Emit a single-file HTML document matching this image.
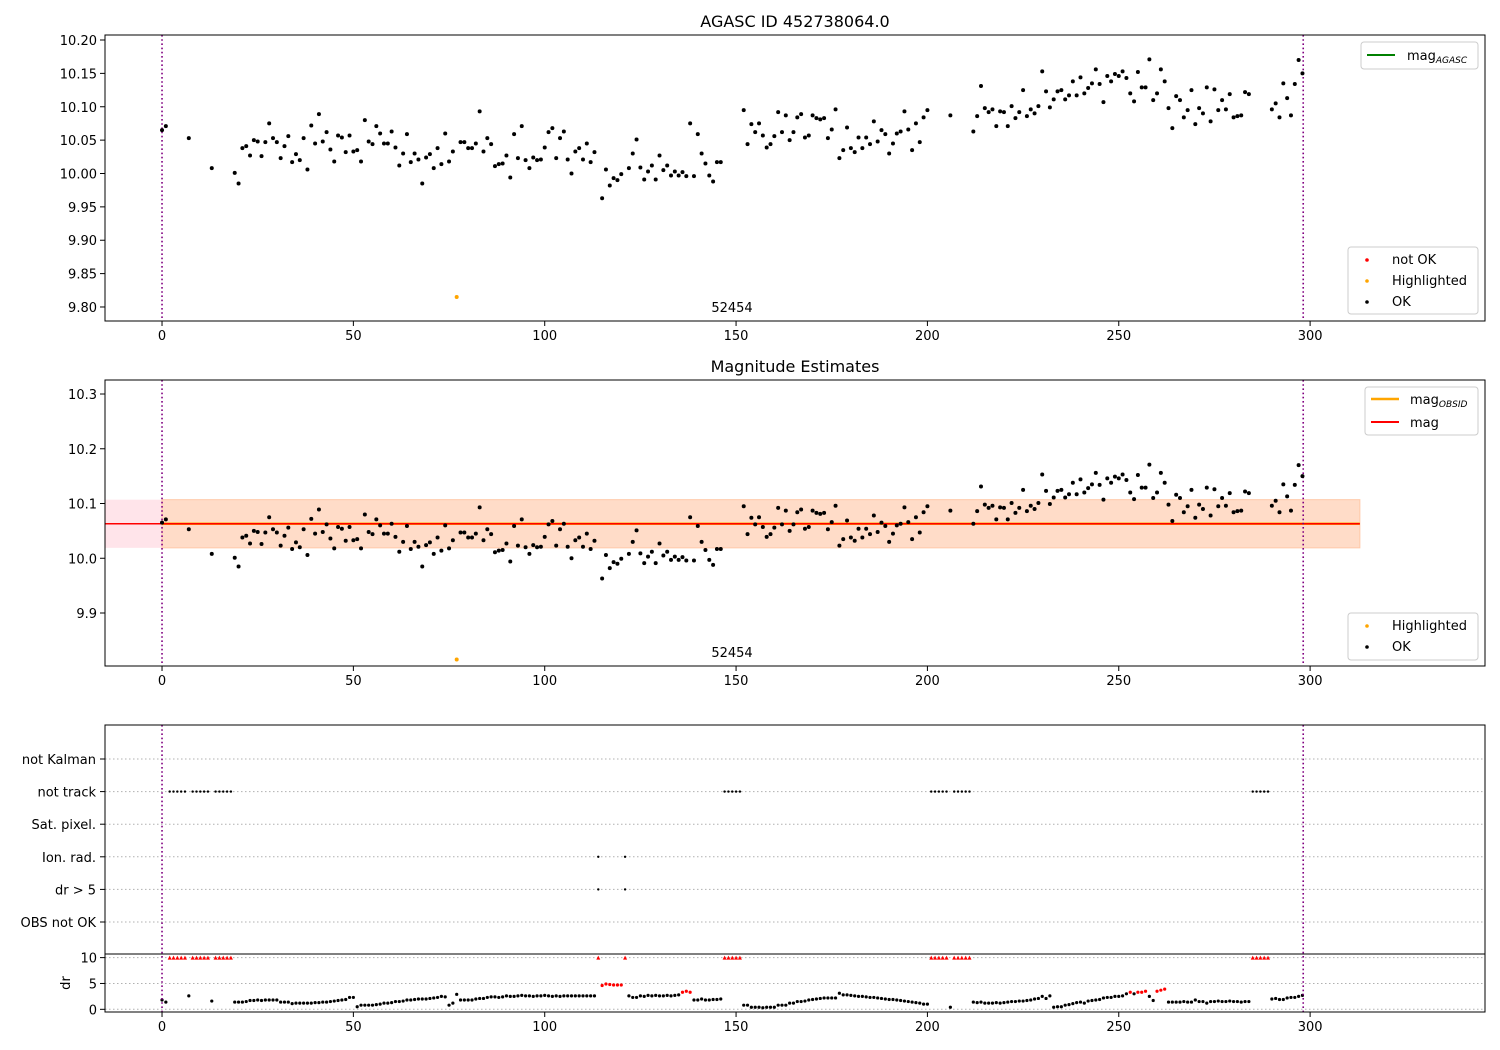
<!DOCTYPE html>
<html><head><meta charset="utf-8">
<style>
html,body{margin:0;padding:0;background:#fff;}
svg{display:block;font-family:"DejaVu Sans","Liberation Sans",sans-serif;}
</style></head>
<body>
<svg id="chart" width="1500" height="1050" xmlns="http://www.w3.org/2000/svg"></svg>
<script>
// ---- data ----
const okIds = [0,1,7,13,
19,20,21,22,23,24,25,26,27,28, 29,30,31,32,33,34,35,36,37,38, 39,40,41,42,43,44,45,46,47,48,
49,50,51,52,53,54,55,56,57,58, 59,60,61,62,63,64,65,66,67,68, 69,70,71,72,73,74,75,76,77,78,
79,80,81,82,83,84,85,86,87,88, 89,90,91,92,93,94,95,96,97,98, 99,100,101,102,103,104,105,106,107,108,
109,110,111,112,113,
115,116,117,118,119,120,
122,123,124,125,126,127,128,129,130,131, 132,133,134,135,136,137,138,139,140,141, 142,143,144,145,146,
152,153,154,155,156,157,158,159,160,161, 162,163,164,165,166,167,168,169,170,171, 172,173,174,175,176,177,178,179,180,181,
182,183,184,185,186,187,188,189,190,191, 192,193,194,195,196,197,198,199,200,
206,
212,213,214,215,216,217,218,219,220,221, 222,223,224,225,226,227,228,229,230,231, 232,233,234,235,236,237,238,239,240,241,
242,243,244,245,246,247,248,249,250,251, 252,253,254,255,256,257,258,259,260,261, 262,263,264,265,266,267,268,269,270,271,
272,273,274,275,276,277,278,279,280,281, 282,283,284,
290,291,292,293,294,295,296,297,298];
const magValues = [10.065,10.071,10.053,10.008,
10.001,9.985,10.038,10.041,10.027,10.050,10.048,10.026,10.047,10.075,
10.053,10.047,10.023,10.041,10.056,10.017,10.029,10.020,10.053,10.006,
10.072,10.045,10.089,10.048,10.062,10.036,10.018,10.057,10.054,10.032,
10.057,10.033,10.035,10.018,10.080,10.048,10.044,10.071,10.060,10.045,
10.045,10.063,10.039,10.012,10.030,10.059,10.017,10.030,10.021,9.985,
10.024,10.029,10.008,10.038,10.014,10.060,10.018,10.033,9.815,10.047,
10.047,10.038,10.038,10.045,10.093,10.033,10.053,10.044,10.011,10.014,
10.015,10.027,9.994,10.059,10.023,10.071,10.020,10.008,10.024,10.020,
10.021,10.039,10.062,10.068,10.023,10.053,10.063,10.021,10.000,10.033,
10.038,10.021,10.045,10.017,10.032,
9.963,10.006,9.982,9.993,9.990,9.999,
10.008,10.030,10.051,10.009,9.991,10.003,10.012,9.991,10.027,10.005,
10.012,9.997,10.003,9.997,10.002,9.996,10.075,9.996,10.059,10.030,
10.015,9.997,9.988,10.017,10.017,
10.095,10.044,10.074,10.062,10.075,10.057,10.039,10.044,10.056,10.092,
10.062,10.087,10.050,10.062,10.084,10.089,10.054,10.057,10.087,10.083,
10.081,10.083,10.053,10.066,10.096,10.023,10.035,10.069,10.038,10.032,
10.054,10.038,10.054,10.044,10.078,10.048,10.065,10.059,10.030,10.045,
10.060,10.063,10.093,10.066,10.035,10.075,10.047,10.084,10.095,
10.087,
10.063,10.086,10.131,10.098,10.092,10.096,10.071,10.093,10.092,10.071,
10.101,10.083,10.092,10.125,10.086,10.096,10.090,10.101,10.153,10.123,
10.099,10.111,10.123,10.125,10.111,10.117,10.138,10.117,10.144,10.120,
10.128,10.135,10.156,10.134,10.107,10.146,10.138,10.149,10.146,10.153,
10.143,10.120,10.108,10.152,10.129,10.129,10.171,10.110,10.120,10.156,
10.138,10.098,10.068,10.116,10.110,10.084,10.095,10.125,10.074,10.098,
10.090,10.129,10.078,10.126,10.095,10.110,10.096,10.119,10.084,10.086,
10.087,10.122,10.119,
10.096,10.105,10.084,10.135,10.113,10.087,10.134,10.170,10.150];
const drValues = [1.8,1.4,2.6,1.6,
1.4,1.4,1.4,1.5,1.7,1.7,1.8,1.7,1.8,1.8,
1.8,1.8,1.4,1.4,1.4,1.1,1.2,1.2,1.2,1.2,
1.2,1.3,1.3,1.4,1.4,1.5,1.6,1.7,1.8,1.9,
2.3,2.3,0.5,0.8,0.8,0.8,0.8,0.9,1.0,1.2,
1.2,1.3,1.5,1.5,1.6,1.8,1.8,1.9,2.0,2.0,
2.0,2.1,2.2,2.3,2.5,2.4,0.8,1.2,2.9,1.8,
1.8,1.8,1.8,2.0,2.1,2.1,2.3,2.4,2.4,2.3,
2.4,2.6,2.5,2.5,2.6,2.7,2.6,2.6,2.5,2.6,
2.6,2.7,2.6,2.5,2.6,2.5,2.6,2.6,2.6,2.6,
2.6,2.6,2.6,2.6,2.6,
4.6,4.9,4.8,4.7,4.7,4.7,
2.6,2.3,2.3,2.6,2.5,2.7,2.6,2.7,2.6,2.6,
2.7,2.6,2.7,2.8,3.3,3.5,3.3,1.8,1.8,2.0,
1.8,1.8,1.9,1.9,2.0,
0.8,0.8,0.4,0.4,0.4,0.3,0.4,0.4,0.4,0.8,
0.8,0.8,1.2,1.2,1.5,1.5,1.6,1.8,1.9,2.0,
2.1,2.2,2.2,2.2,2.2,3.1,2.8,2.8,2.7,2.6,
2.5,2.5,2.4,2.3,2.3,2.2,2.1,2.0,1.9,1.9,
1.8,1.7,1.6,1.5,1.4,1.3,1.2,1.0,1.0,
0.4,
1.4,1.3,1.4,1.2,1.2,1.2,1.3,1.2,1.3,1.4,
1.5,1.5,1.6,1.6,1.7,1.8,2.0,2.1,2.5,2.1,
2.6,0.4,0.5,0.5,0.8,0.9,1.1,1.3,1.4,1.2,
1.6,1.7,1.8,1.9,2.2,2.3,2.3,2.5,2.5,2.6,
3.0,3.3,3.0,3.3,3.3,3.5,2.5,1.7,3.5,3.7,
3.9,1.4,1.4,1.4,1.4,1.5,1.4,1.4,1.8,1.5,
1.5,1.2,1.5,1.5,1.6,1.5,1.5,1.6,1.5,1.5,
1.4,1.5,1.5,
2.0,2.1,1.9,1.9,2.2,2.3,2.3,2.5,2.7];
const highlightedIds = [77];
const notTrackIds = [2,3,4,5,6,8,9,10,11,12,14,15,16,17,18,147,148,149,150,151,201,202,203,204,205,207,208,209,210,211,285,286,287,288,289];
const ionRadIds = [114,121];
const drGt5Ids = [114,121];
const flagCategories = ["OBS not OK","dr > 5","Ion. rad.","Sat. pixel.","not track","not Kalman"];
const xTicks = [0,50,100,150,200,250,300];
const y1Ticks = [9.80,9.85,9.90,9.95,10.00,10.05,10.10,10.15,10.20];
const y2Ticks = [9.9,10.0,10.1,10.2,10.3];
const drTicks = [0,5,10];
const magMean = 10.063, magLow = 10.019, magHigh = 10.107;
const obsStart = 0, obsEnd = 298.2, bandEnd = 313;
const obsLabel = "52454";

// ---- helpers ----
const NS = "http://www.w3.org/2000/svg";
const svg = document.getElementById("chart");
function mk(tag, attrs, parent){ const e=document.createElementNS(NS,tag); for(const k in attrs) e.setAttribute(k,attrs[k]); (parent||svg).appendChild(e); return e; }
function txt(s, attrs, parent){ const e=mk("text",attrs,parent); e.textContent=s; return e; }

const L=105, R=1485;
const X0=-14.9, X1=345.7;
const xs = v => L + (v-X0)/(X1-X0)*(R-L);
const P1={t:35,b:321,lo:9.7790,hi:10.2075};
const P2={t:380,b:666,lo:9.8032,hi:10.3256};
const ys = (P,v) => P.b - (v-P.lo)/(P.hi-P.lo)*(P.b-P.t);
const DR={top:954,b:1012,lo:-0.52,hi:10.7};
const yd = v => DR.b - (v-DR.lo)/(DR.hi-DR.lo)*(DR.b-DR.top);
const catY = i => 922 - i*32.6;

function xAxis(P, g){
  xTicks.forEach(t=>{
    const x=xs(t);
    mk("line",{x1:x,x2:x,y1:P,y2:P+5,stroke:"#000","stroke-width":1},g);
    const e=txt(String(t),{x:x,y:P+19,"font-size":13,"text-anchor":"middle"},g);
    
    
  });
}
function vlines(top,bot,g){
  [obsStart,obsEnd].forEach(v=>{
    const l=mk("line",{x1:xs(v),x2:xs(v),y1:top,y2:bot,stroke:"#800080","stroke-width":1.6,"stroke-dasharray":"1.6,2.6"},g);
    
    
  });
}
function dot(x,y,c,r,g,name){
  const e=mk("circle",{cx:x,cy:y,r:r,fill:c},g);
  
  
}

// ---- panel 1 ----
const g1=mk("g",{});


txt("AGASC ID 452738064.0",{x:795,y:27,"font-size":16,"text-anchor":"middle",},g1);
y1Ticks.forEach(t=>{
  const y=ys(P1,t);
  mk("line",{x1:L-5,x2:L,y1:y,y2:y,stroke:"#000"},g1);
  const e=txt(t.toFixed(2),{x:L-8,y:y+5,"font-size":13,"text-anchor":"end"},g1);
  
  
});
xAxis(P1.b,g1);
vlines(P1.t,P1.b,g1);
okIds.forEach((id,i)=>{
  const hl = highlightedIds.includes(id);
  dot(xs(id),ys(P1,magValues[i]),hl?"orange":"#000",2,g1, hl?'highlighted-point':'ok-point');
});
txt(obsLabel,{x:732,y:312,"font-size":13,"text-anchor":"middle",},g1);
mk("rect",{x:L,y:P1.t,width:R-L,height:P1.b-P1.t,fill:"none",stroke:"#000","stroke-width":1,},g1);
// legends
const lg1=mk("g",{},g1);
mk("rect",{x:1361,y:42,width:117,height:27,rx:3,fill:"#fff",stroke:"#ccc"},lg1);
mk("line",{x1:1367,x2:1395,y1:55,y2:55,stroke:"green","stroke-width":2},lg1);
const t1=txt("mag",{x:1407,y:60,"font-size":13,},lg1);
const s1=mk("tspan",{"font-size":9,"font-style":"italic",dy:3},t1); s1.textContent="AGASC";
const lg2=mk("g",{},g1);
mk("rect",{x:1348,y:247,width:130,height:67,rx:3,fill:"#fff",stroke:"#ccc"},lg2);
[["not OK","red",259],["Highlighted","orange",280],["OK","#000",301]].forEach(([s,c,y])=>{
  mk("circle",{cx:1367,cy:y+1,r:1.8,fill:c},lg2);
  txt(s,{x:1392,y:y+5,"font-size":13,},lg2);
});

// ---- panel 2 ----
const g2=mk("g",{});


txt("Magnitude Estimates",{x:795,y:372,"font-size":16,"text-anchor":"middle",},g2);
mk("rect",{x:L,y:ys(P2,magHigh),width:xs(bandEnd)-L,height:ys(P2,magLow)-ys(P2,magHigh),fill:"#ffe4ea",},g2);
mk("rect",{x:xs(obsStart),y:ys(P2,magHigh),width:xs(bandEnd)-xs(obsStart),height:ys(P2,magLow)-ys(P2,magHigh),fill:"#ffdcc8",stroke:"#ffc8a8",},g2);
mk("line",{x1:xs(obsStart),x2:xs(bandEnd),y1:ys(P2,magMean),y2:ys(P2,magMean),stroke:"orange","stroke-width":2.5,},g2);
mk("line",{x1:L,x2:xs(bandEnd),y1:ys(P2,magMean),y2:ys(P2,magMean),stroke:"red","stroke-width":1.5,},g2);
y2Ticks.forEach(t=>{
  const y=ys(P2,t);
  mk("line",{x1:L-5,x2:L,y1:y,y2:y,stroke:"#000"},g2);
  const e=txt(t.toFixed(1),{x:L-8,y:y+5,"font-size":13,"text-anchor":"end"},g2);
  
  
});
xAxis(P2.b,g2);
vlines(P2.t,P2.b,g2);
okIds.forEach((id,i)=>{
  const hl = highlightedIds.includes(id);
  dot(xs(id),ys(P2,magValues[i]),hl?"orange":"#000",2,g2, hl?'highlighted-point':'ok-point');
});
txt(obsLabel,{x:732,y:657,"font-size":13,"text-anchor":"middle",},g2);
mk("rect",{x:L,y:P2.t,width:R-L,height:P2.b-P2.t,fill:"none",stroke:"#000",},g2);
const lg3=mk("g",{},g2);
mk("rect",{x:1365,y:387,width:113,height:48,rx:3,fill:"#fff",stroke:"#ccc"},lg3);
mk("line",{x1:1371,x2:1399,y1:399,y2:399,stroke:"orange","stroke-width":2.5},lg3);
const t2=txt("mag",{x:1410,y:404,"font-size":13,},lg3);
const s2=mk("tspan",{"font-size":9,"font-style":"italic",dy:3},t2); s2.textContent="OBSID";
mk("line",{x1:1371,x2:1399,y1:422,y2:422,stroke:"red","stroke-width":2},lg3);
txt("mag",{x:1410,y:427,"font-size":13,},lg3);
const lg4=mk("g",{},g2);
mk("rect",{x:1348,y:613,width:130,height:47,rx:3,fill:"#fff",stroke:"#ccc"},lg4);
[["Highlighted","orange",625],["OK","#000",646]].forEach(([s,c,y])=>{
  mk("circle",{cx:1367,cy:y+1,r:1.8,fill:c},lg4);
  txt(s,{x:1392,y:y+5,"font-size":13,},lg4);
});

// ---- panel 3 ----
const g3=mk("g",{});


flagCategories.forEach((c,i)=>{
  const y=catY(i);
  mk("line",{x1:L,x2:R,y1:y,y2:y,stroke:"#b0b0b0","stroke-dasharray":"1.5,2.5"},g3);
  mk("line",{x1:L-5,x2:L,y1:y,y2:y,stroke:"#000"},g3);
  const e=txt(c,{x:L-9,y:y+5,"font-size":13,"text-anchor":"end"},g3);
  
  
});
notTrackIds.forEach(id=>dot(xs(id),catY(4),"#000",1.2,g3,'not-track-flag'));
ionRadIds.forEach(id=>dot(xs(id),catY(2),"#000",1.2,g3,'ion-rad-flag'));
drGt5Ids.forEach(id=>dot(xs(id),catY(1),"#000",1.2,g3,'dr-gt-5-flag'));
// dr subplot
drTicks.forEach(t=>{
  const y=yd(t);
  mk("line",{x1:L,x2:R,y1:y,y2:y,stroke:"#b0b0b0","stroke-dasharray":"1.5,2.5"},g3);
  mk("line",{x1:L-5,x2:L,y1:y,y2:y,stroke:"#000"},g3);
  const e=txt(String(t),{x:L-8,y:y+5,"font-size":13,"text-anchor":"end"},g3);
  
  
});
txt("dr",{x:70,y:983,"font-size":13,"text-anchor":"middle",transform:"rotate(-90 70 983)",},g3);
okIds.forEach((id,i)=>{
  const v=drValues[i];
  dot(xs(id),yd(v),v>3.2?"red":"#000",1.6,g3,'dr-point');
});
notTrackIds.concat(ionRadIds).forEach(id=>{
  const x=xs(id), y=yd(10);
  const p=mk("path",{d:`M${x-2},${y+2} L${x+2},${y+2} L${x},${y-2} Z`,fill:"red"},g3);
  
  
});
xAxis(DR.b,g3);
vlines(725,DR.b,g3);
mk("line",{x1:L,x2:R,y1:DR.top,y2:DR.top,stroke:"#000"},g3);
mk("rect",{x:L,y:725,width:R-L,height:DR.b-725,fill:"none",stroke:"#000",},g3);
</script>
</body></html>
